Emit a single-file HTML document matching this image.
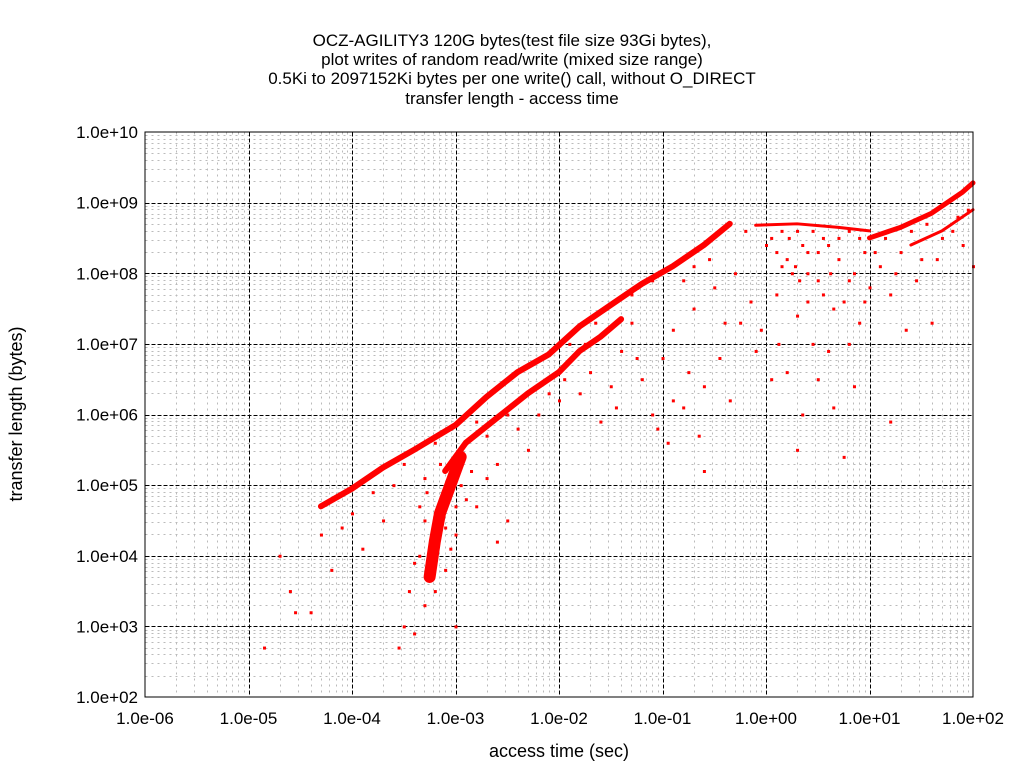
<!DOCTYPE html>
<html><head><meta charset="utf-8"><style>
body{margin:0;background:#fff;}
svg{display:block;font-family:"Liberation Sans",sans-serif;}
</style></head><body>
<svg id="chart" width="1024" height="768" viewBox="0 0 1024 768">
<g font-size="17" text-anchor="middle" fill="#000">
<text x="512" y="46">OCZ-AGILITY3 120G bytes(test file size 93Gi bytes),</text>
<text x="512" y="65">plot writes of random read/write (mixed size range)</text>
<text x="512" y="84">0.5Ki to 2097152Ki bytes per one write() call, without O_DIRECT</text>
<text x="512" y="104">transfer length - access time</text>
</g>
<g id="grid" shape-rendering="crispEdges"></g>
<g id="marks"></g>
<rect x="145" y="132" width="828" height="565" fill="none" stroke="#000" stroke-width="1" shape-rendering="crispEdges"/>
<g id="ticks" font-size="17"></g>
<text x="559" y="757" font-size="18" text-anchor="middle">access time (sec)</text>
<text transform="translate(22,414) rotate(-90)" font-size="18" text-anchor="middle">transfer length (bytes)</text>
</svg>
<script>
const xTickLabels=["1.0e-06","1.0e-05","1.0e-04","1.0e-03","1.0e-02","1.0e-01","1.0e+00","1.0e+01","1.0e+02"];
const yTickLabels=["1.0e+02","1.0e+03","1.0e+04","1.0e+05","1.0e+06","1.0e+07","1.0e+08","1.0e+09","1.0e+10"];
const upperBand=[[-4.3,4.7],[-4.0,4.95],[-3.7,5.25],[-3.4,5.5],[-3.0,5.85],[-2.7,6.25],[-2.4,6.6],[-2.1,6.85],[-1.8,7.25],[-1.5,7.55],[-1.2,7.85],[-0.9,8.1],[-0.6,8.4],[-0.35,8.7]];
const lowerBand=[[-3.1,5.2],[-2.9,5.6],[-2.6,5.95],[-2.3,6.3],[-2.0,6.6],[-1.8,6.9],[-1.6,7.1],[-1.4,7.35]];
const clusterBand=[[-3.25,3.7],[-3.2,4.2],[-3.15,4.6],[-3.05,5.0],[-2.95,5.4]];
const plateauBand=[[-0.1,8.68],[0.3,8.7],[0.7,8.65],[1.0,8.6]];
const rightUpper=[[1.0,8.5],[1.3,8.65],[1.6,8.85],[1.9,9.15],[2.0,9.28]];
const rightLower=[[1.4,8.4],[1.7,8.6],[2.0,8.9]];
const scatter=[[-4.85,2.7],[-4.7,4.0],[-4.6,3.5],[-4.55,3.2],[-4.4,3.2],[-4.3,4.3],[-4.2,3.8],[-4.1,4.4],[-4.0,4.6],[-3.9,4.1],[-3.8,4.9],[-3.7,4.5],[-3.55,2.7],[-3.5,3.0],[-3.45,3.5],[-3.4,2.9],[-3.35,4.0],[-3.3,3.3],[-3.2,3.5],[-3.1,3.8],[-3.0,4.3],[-2.9,4.8],[-2.8,4.7],[-2.7,5.1],[-2.6,5.3],[-2.5,4.5],[-2.4,5.8],[-2.3,5.5],[-2.2,6.0],[-2.0,6.2],[-1.9,7.0],[-1.7,6.6],[-1.6,5.9],[-1.5,6.4],[-1.4,6.9],[-1.3,7.3],[-1.2,6.5],[-1.1,6.0],[-1.0,6.8],[-0.95,5.6],[-0.9,7.2],[-0.8,6.1],[-0.7,7.5],[-0.65,5.7],[-0.6,6.4],[-0.5,7.8],[-0.45,6.8],[-0.4,7.3],[-0.35,6.2],[-0.3,8.0],[-0.2,8.6],[-0.15,7.6],[-0.1,6.9],[0.0,8.4],[0.1,7.7],[0.15,8.1],[0.2,6.6],[0.25,8.0],[0.3,7.4],[0.35,6.0],[0.4,8.3],[0.45,7.0],[0.5,7.9],[0.55,8.5],[0.6,6.9],[0.65,7.5],[0.7,8.2],[0.75,5.4],[0.8,7.9],[0.85,6.4],[0.9,7.3],[0.95,8.3],[1.0,7.8],[1.1,8.1],[1.2,7.7],[1.3,8.3],[1.35,7.2],[1.5,8.2],[1.6,7.3],[1.8,8.6],[2.0,8.1],[1.2,5.9],[0.3,5.5],[-0.6,5.2],[-1.05,5.8],[-1.8,6.3],[-2.6,4.2],[-3.0,3.0],
[-3.3,4.5],[-3.28,4.9],[-3.35,4.7],[-3.4,3.9],[-3.25,4.0],[-3.1,4.4],[-3.05,4.1],[-3.0,4.7],[-2.95,5.0],[-2.85,5.2],[-3.15,5.3],[-3.3,5.1],[-3.5,5.3],[-3.6,5.0],[-3.2,5.6],[-2.8,5.9],[-2.7,5.7],[-2.5,6.0],[-2.2,6.4],[-2.1,6.3],[-1.95,6.5],[-1.9,6.75],[-1.75,7.0],[-1.65,7.3],[-1.3,7.7],[-1.1,7.9],[-0.8,7.9],[-0.7,8.1],[-0.55,8.2],
[0.05,8.5],[0.1,8.3],[0.15,8.6],[0.2,8.2],[0.22,8.5],[0.28,8.1],[0.3,8.6],[0.32,7.9],[0.35,8.4],[0.4,7.6],[0.45,8.6],[0.5,8.3],[0.55,7.7],[0.6,8.4],[0.62,8.0],[0.7,8.5],[0.75,7.6],[0.8,8.6],[0.85,8.0],[0.9,8.5],[0.95,7.6],[1.05,8.3],[1.15,8.5],[1.25,8.0],[1.4,8.6],[1.45,7.9],[1.55,8.7],[1.65,8.2],[1.7,8.5],[1.85,8.8],[1.9,8.4],[1.95,8.9],[-0.25,7.3],[-0.05,7.2],[0.05,6.5],[0.12,7.0],[0.5,6.5],[0.65,6.1],[0.8,7.0],[-0.75,6.6],[-0.9,6.2],[-1.25,6.8],[-1.45,6.1],[0.4,8.0]];
const X0=145,X1=973,Y0=697,Y1=132;
const xs=v=>X0+(v+6)/8*(X1-X0);
const ys=v=>Y0-(v-2)/8*(Y0-Y1);
const NS="http://www.w3.org/2000/svg";
const grid=document.getElementById('grid'),marks=document.getElementById('marks'),ticks=document.getElementById('ticks');
function ln(x1,y1,x2,y2,c,d){const l=document.createElementNS(NS,'line');l.setAttribute('x1',Math.round(x1)+0.5);l.setAttribute('y1',Math.round(y1)+0.5);l.setAttribute('x2',Math.round(x2)+0.5);l.setAttribute('y2',Math.round(y2)+0.5);l.setAttribute('stroke',c);l.setAttribute('stroke-dasharray',d);


grid.appendChild(l);}
for(let d=0;d<8;d++){for(let m=2;m<10;m++){const lx=-6+d+Math.log10(m),ly=2+d+Math.log10(m);ln(xs(lx),Y1,xs(lx),Y0,'#bbb','2,4');ln(X0,ys(ly),X1,ys(ly),'#bbb','2,4');}}
for(let d=1;d<8;d++){ln(xs(-6+d),Y1,xs(-6+d),Y0,'#000','4,2');ln(X0,ys(2+d),X1,ys(2+d),'#000','4,2');}
xTickLabels.forEach((t,i)=>{const e=document.createElementNS(NS,'text');e.setAttribute('x',xs(-6+i));e.setAttribute('y',724);e.setAttribute('text-anchor','middle');e.textContent=t;


ticks.appendChild(e);});
yTickLabels.forEach((t,i)=>{const e=document.createElementNS(NS,'text');e.setAttribute('x',138);e.setAttribute('y',ys(2+i)+6);e.setAttribute('text-anchor','end');e.textContent=t;


ticks.appendChild(e);});
function band(arr,w,name){const p=document.createElementNS(NS,'polyline');p.setAttribute('points',arr.map(a=>xs(a[0])+','+ys(a[1])).join(' '));p.setAttribute('fill','none');p.setAttribute('stroke','#f00');p.setAttribute('stroke-width',w);p.setAttribute('stroke-linecap','round');p.setAttribute('stroke-linejoin','round');


marks.appendChild(p);}
band(upperBand,6,'upper-band');band(lowerBand,6,'lower-band');band(clusterBand,12,'fast-cluster');band(plateauBand,3,'plateau-band');band(rightUpper,5,'right-upper-band');band(rightLower,3,'right-lower-band');
scatter.forEach(a=>{const r=document.createElementNS(NS,'rect');r.setAttribute('x',xs(a[0])-1);r.setAttribute('y',ys(a[1])-1);r.setAttribute('width',3);r.setAttribute('height',3);r.setAttribute('fill','#f00');


marks.appendChild(r);});
</script>
</body></html>
